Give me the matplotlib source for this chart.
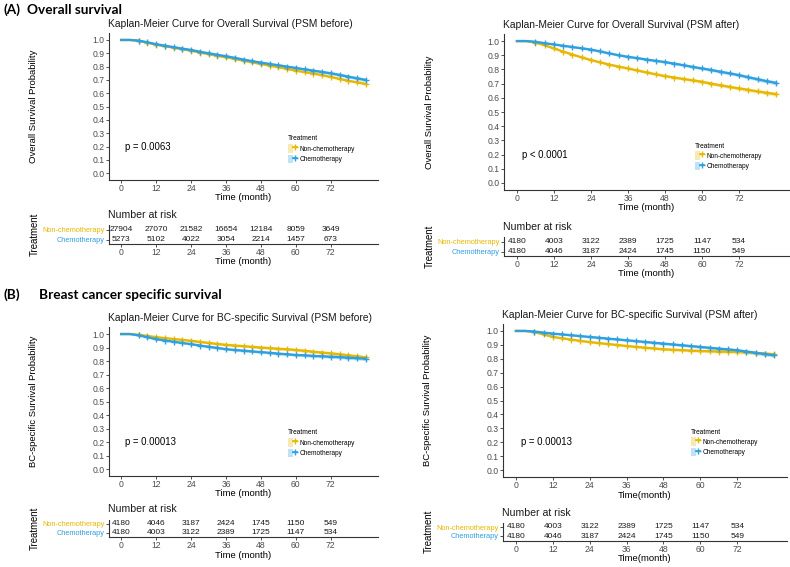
import numpy as np
import matplotlib.pyplot as plt
from matplotlib.patches import Patch
from matplotlib.lines import Line2D
from matplotlib.legend_handler import HandlerTuple

plt.rcParams['font.family'] = ['Liberation Sans', 'DejaVu Sans']

W, H = 790, 567
YELLOW = '#E7B800'
BLUE = '#2E9FDF'

# survival estimates, every 3 months
times = list(range(0, 85, 3))
risk_times = [0, 12, 24, 36, 48, 60, 72]

os_before_non = [1, 1, 0.993, 0.980, 0.965, 0.953, 0.942, 0.931, 0.920, 0.906, 0.893, 0.881, 0.870, 0.858, 0.845,
                 0.832, 0.820, 0.808, 0.796, 0.783, 0.770, 0.759, 0.748, 0.736, 0.723, 0.708, 0.694, 0.682, 0.670]
os_before_chemo = [1, 1, 0.995, 0.982, 0.968, 0.957, 0.946, 0.935, 0.925, 0.912, 0.900, 0.889, 0.878, 0.866, 0.853,
                   0.841, 0.830, 0.820, 0.810, 0.800, 0.790, 0.780, 0.770, 0.760, 0.750, 0.738, 0.725, 0.712, 0.700]
os_after_non = [1, 1, 0.990, 0.970, 0.948, 0.926, 0.905, 0.885, 0.866, 0.850, 0.834, 0.820, 0.807, 0.793, 0.779,
                0.766, 0.753, 0.743, 0.733, 0.723, 0.713, 0.700, 0.688, 0.677, 0.666, 0.656, 0.645, 0.635, 0.626]
os_after_chemo = [1, 1, 0.995, 0.985, 0.976, 0.967, 0.958, 0.949, 0.940, 0.927, 0.913, 0.900, 0.889, 0.880, 0.870,
                  0.861, 0.852, 0.841, 0.830, 0.818, 0.807, 0.796, 0.784, 0.772, 0.760, 0.745, 0.731, 0.717, 0.705]
bc_before_non = [1, 1, 0.995, 0.986, 0.977, 0.970, 0.963, 0.957, 0.950, 0.942, 0.934, 0.927, 0.920, 0.915, 0.910,
                 0.905, 0.900, 0.896, 0.891, 0.887, 0.882, 0.876, 0.869, 0.863, 0.857, 0.850, 0.842, 0.835, 0.827]
bc_before_chemo = [1, 1, 0.990, 0.976, 0.962, 0.952, 0.943, 0.934, 0.925, 0.915, 0.906, 0.897, 0.888, 0.882, 0.877,
                   0.871, 0.866, 0.861, 0.855, 0.850, 0.845, 0.842, 0.838, 0.835, 0.832, 0.829, 0.825, 0.821, 0.817]
bc_after_non = [1, 1, 0.992, 0.975, 0.957, 0.947, 0.938, 0.929, 0.920, 0.913, 0.906, 0.899, 0.892, 0.886, 0.880,
                0.874, 0.868, 0.865, 0.862, 0.859, 0.856, 0.854, 0.852, 0.851, 0.849, 0.846, 0.842, 0.837, 0.832]
bc_after_chemo = [1, 1, 0.996, 0.988, 0.981, 0.975, 0.969, 0.963, 0.957, 0.951, 0.945, 0.939, 0.933, 0.927, 0.921,
                  0.915, 0.909, 0.903, 0.897, 0.891, 0.885, 0.879, 0.873, 0.867, 0.861, 0.852, 0.843, 0.834, 0.825]

# half widths of the confidence bands
ci_narrow = [0, 0, 0.001, 0.001, 0.002, 0.002, 0.002, 0.002, 0.003, 0.003, 0.003, 0.003, 0.003, 0.004, 0.004,
             0.004, 0.004, 0.004, 0.005, 0.005, 0.005, 0.005, 0.005, 0.006, 0.006, 0.006, 0.007, 0.007, 0.008]
ci_wide = [0, 0, 0.002, 0.003, 0.004, 0.004, 0.005, 0.005, 0.006, 0.006, 0.007, 0.007, 0.007, 0.008, 0.008,
           0.008, 0.009, 0.009, 0.009, 0.010, 0.010, 0.011, 0.011, 0.012, 0.012, 0.013, 0.013, 0.014, 0.015]

risk_os_before_non = [27904, 27070, 21582, 16654, 12184, 8059, 3649]
risk_os_before_chemo = [5273, 5102, 4022, 3054, 2214, 1457, 673]
risk_os_after_non = [4180, 4003, 3122, 2389, 1725, 1147, 534]
risk_os_after_chemo = [4180, 4046, 3187, 2424, 1745, 1150, 549]
risk_bc_before_non = [4180, 4046, 3187, 2424, 1745, 1150, 549]
risk_bc_before_chemo = [4180, 4003, 3122, 2389, 1725, 1147, 534]
risk_bc_after_non = [4180, 4003, 3122, 2389, 1725, 1147, 534]
risk_bc_after_chemo = [4180, 4046, 3187, 2424, 1745, 1150, 549]

fig = plt.figure(figsize=(7.9, 5.67), dpi=100)


def px_axes(left, top, right, bottom):
    return fig.add_axes([left / W, 1 - bottom / H, (right - left) / W, (bottom - top) / H])


def ftext(x, y, s, **kw):
    kw.setdefault('va', 'center')
    return fig.text(x / W, 1 - y / H, s, **kw)


def style_axes(ax):
    for side in ['top', 'right']:
        ax.spines[side].set_visible(False)
    for side in ['left', 'bottom']:
        ax.spines[side].set_color('#333333')
        ax.spines[side].set_linewidth(0.8)
    ax.tick_params(labelsize=6.2, labelcolor='#4D4D4D', color='#333333', length=2, width=0.6, pad=1)
    ax.set_xlim(-4.2, 88.2)
    ax.set_xticks(risk_times)


def draw_panel(box, table_box, title, ylabel, xlabel, non, chemo, ci_non, ci_chemo, pval, pxy, legxy,
               risk_non, risk_chemo, tylim):
    left, top, right, bottom = box
    ax = px_axes(left, top, right, bottom)
    style_axes(ax)
    t = np.array(times)
    for surv, ci, color in [(non, ci_non, YELLOW), (chemo, ci_chemo, BLUE)]:
        s = np.array(surv)
        c = np.array(ci)
        ax.fill_between(t, s - c, s + c, color=color, alpha=0.25, lw=0)
        ax.plot(t, s, color=color, lw=1.7)
        ax.plot(t[2:], s[2:], ls='none', marker='+', ms=5, mew=1.0, color=color)
    ax.set_ylim(-0.05, 1.05)
    ax.set_yticks(np.arange(0, 1.01, 0.1))
    ax.set_yticklabels(['%.1f' % v for v in np.arange(0, 1.01, 0.1)])

    ftext(left - 1, top - 9, title, fontsize=7.35, color='#1a1a1a')
    ftext(left - 75, (top + bottom) / 2, ylabel, fontsize=6.8, rotation=90, ha='center')
    ftext((left + right) / 2, bottom + 18, xlabel, fontsize=6.8, ha='center')
    ftext(pxy[0], pxy[1], pval, fontsize=6.9)

    handles = [(Patch(facecolor=YELLOW, alpha=0.3, edgecolor='none'),
                Line2D([], [], color=YELLOW, marker='+', lw=1.2, ms=5)),
               (Patch(facecolor=BLUE, alpha=0.3, edgecolor='none'),
                Line2D([], [], color=BLUE, marker='+', lw=1.2, ms=5))]
    ax.legend(handles, ['Non-chemotherapy', 'Chemotherapy'], title='Treatment',
              handler_map={tuple: HandlerTuple(ndivide=None, pad=0)},
              loc='upper left', bbox_to_anchor=(legxy[0] / W, 1 - legxy[1] / H),
              bbox_transform=fig.transFigure, frameon=False, fontsize=4.7, title_fontsize=4.8,
              handlelength=1.4, handleheight=1.7, handletextpad=0.4, labelspacing=0.25,
              borderpad=0, borderaxespad=0, alignment='left')

    # risk table
    tl, tt, tr, tb = table_box
    tax = px_axes(tl, tt, tr, tb)
    style_axes(tax)
    tax.set_ylim(*tylim)
    tax.set_yticks([1, 2])
    tax.set_yticklabels(['Chemotherapy', 'Non-chemotherapy'], fontsize=5.3)
    tax.get_yticklabels()[0].set_color(BLUE)
    tax.get_yticklabels()[1].set_color(YELLOW)
    for x, n1, n2 in zip(risk_times, risk_non, risk_chemo):
        tax.text(x, 2, str(n1), ha='center', va='center', fontsize=6.0, color='#1a1a1a')
        tax.text(x, 1, str(n2), ha='center', va='center', fontsize=6.0, color='#1a1a1a')
    ftext(tl - 1, tt - 10, 'Number at risk', fontsize=7.6, color='#1a1a1a')
    ftext(left - 74, (tt + tb) / 2, 'Treatment', fontsize=6.9, rotation=90, ha='center')
    ftext((tl + tr) / 2, tb + 18, xlabel, fontsize=6.8, ha='center')


ftext(3, 10, '(A)', fontsize=9.8, fontweight='bold', family='Lato')
ftext(27, 10, 'Overall survival', fontsize=9.8, fontweight='bold', family='Lato')
ftext(3, 295, '(B)', fontsize=9.8, fontweight='bold', family='Lato')
ftext(39, 295, 'Breast cancer specific survival', fontsize=9.8, fontweight='bold', family='Lato')

draw_panel((109, 33.3, 378, 180), (109, 224.5, 378, 243.5),
           'Kaplan-Meier Curve for Overall Survival (PSM before)', 'Overall Survival Probability', 'Time (month)',
           os_before_non, os_before_chemo, ci_narrow, ci_wide, 'p = 0.0063', (125, 147), (288, 135.5),
           risk_os_before_non, risk_os_before_chemo, (0.6, 2.5))

draw_panel((504, 34, 789, 190), (504, 237, 789, 256),
           'Kaplan-Meier Curve for Overall Survival (PSM after)', 'Overall Survival Probability', 'Time (month)',
           os_after_non, os_after_chemo, ci_wide, ci_wide, 'p < 0.0001', (522, 155), (695, 142.5),
           risk_os_after_non, risk_os_after_chemo, (0.6, 2.5))

draw_panel((109, 327.3, 378, 475.8), (109, 519.5, 378, 537),
           'Kaplan-Meier Curve for BC-specific Survival (PSM before)', 'BC-specific Survival Probability',
           'Time (month)',
           bc_before_non, bc_before_chemo, ci_wide, ci_wide, 'p = 0.00013', (125, 442), (288, 429.5),
           risk_bc_before_non, risk_bc_before_chemo, (0.55, 2.5))

draw_panel((503, 324, 787, 477), (503, 522.5, 787, 540.5),
           'Kaplan-Meier Curve for BC-specific Survival (PSM after)', 'BC-specific Survival Probability',
           'Time(month)',
           bc_after_non, bc_after_chemo, ci_wide, ci_wide, 'p = 0.00013', (521, 442), (691, 428.5),
           risk_bc_after_non, risk_bc_after_chemo, (0.5, 2.5))

fig.savefig('out.png', dpi=100)
